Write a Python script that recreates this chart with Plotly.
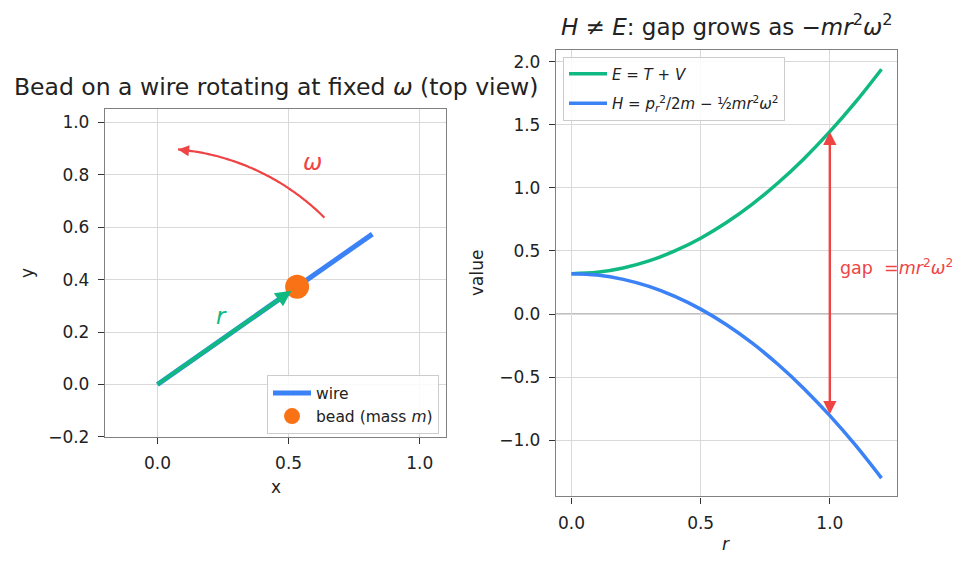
import math
import plotly.graph_objects as go

# ---------------- data ----------------
# left panel: wire geometry (top view)
wire_angle_deg = 35.0
wire_length = 1.0
bead_r = 0.65
arc_radius = 0.9
arc_start_deg = 45.0
arc_end_deg = 85.0

# right panel: energies vs r
r_vals = [0.0, 0.1, 0.2, 0.3, 0.4, 0.5, 0.6, 0.7, 0.8, 0.9, 1.0, 1.1, 1.2]
E_vals = [0.32, 0.331, 0.365, 0.421, 0.50, 0.601, 0.725, 0.871, 1.04, 1.231, 1.445, 1.681, 1.94]
H_vals = [0.32, 0.309, 0.275, 0.219, 0.14, 0.039, -0.085, -0.231, -0.40, -0.591, -0.805, -1.041, -1.30]
gap_r = 1.0
gap_E = 1.445
gap_H = -0.805

left_xticks = [0.0, 0.5, 1.0]
left_yticks = [-0.2, 0.0, 0.2, 0.4, 0.6, 0.8, 1.0]
right_xticks = [0.0, 0.5, 1.0]
right_yticks = [-1.0, -0.5, 0.0, 0.5, 1.0, 1.5, 2.0]

BLUE = "#3b82f6"
GREEN = "#10b981"
ORANGE = "#f97316"
RED = "#ef4444"
FONT = "DejaVu Sans"
TXT = "#222222"

W = 968.0
HEFF = 564.0  # effective rendered height used for pixel->paper conversion


def px_x(p):
    return p / W


def px_y(p):
    return 1 - p / HEFF


def fmt(v):
    return f"{v:.1f}".replace("-", "\u2212")


th = math.radians(wire_angle_deg)
wx = [0.0, wire_length * math.cos(th)]
wy = [0.0, wire_length * math.sin(th)]
bx = bead_r * math.cos(th)
by = bead_r * math.sin(th)

n_arc = 60
arc_t = [math.radians(arc_start_deg + (arc_end_deg - arc_start_deg) * i / (n_arc - 1)) for i in range(n_arc)]
arc_x = [arc_radius * math.cos(t) for t in arc_t]
arc_y = [arc_radius * math.sin(t) for t in arc_t]

fig = go.Figure()

# left panel
fig.add_trace(go.Scatter(x=wx, y=wy, mode="lines", line=dict(color=BLUE, width=5),
                         name="wire", xaxis="x", yaxis="y", legend="legend", legendgroup="a"))
fig.add_trace(go.Scatter(x=[0, bx * 0.96], y=[0, by * 0.96], mode="lines",
                         line=dict(color=GREEN, width=4), showlegend=False,
                         xaxis="x", yaxis="y"))
fig.add_trace(go.Scatter(x=arc_x, y=arc_y, mode="lines", line=dict(color=RED, width=2.2, shape="spline"),
                         showlegend=False, xaxis="x", yaxis="y"))
fig.add_trace(go.Scatter(x=[bx], y=[by], mode="markers",
                         marker=dict(color=ORANGE, size=24, line=dict(width=0)),
                         name="bead (mass <i>m</i>)", xaxis="x", yaxis="y", legend="legend", legendgroup="b"))

# right panel
fig.add_trace(go.Scatter(x=r_vals, y=E_vals, mode="lines", line=dict(color=GREEN, width=3.5, shape="spline"),
                         name="<i>E</i> = <i>T</i> + <i>V</i>", xaxis="x2", yaxis="y2",
                         legend="legend2", legendgroup="c"))
fig.add_trace(go.Scatter(x=r_vals, y=H_vals, mode="lines", line=dict(color=BLUE, width=3.5, shape="spline"),
                         name="<i>H</i> = <i>p</i><sub><i>r</i></sub><sup>2</sup>/2<i>m</i> \u2212 \u00bd<i>mr</i><sup>2</sup><i>\u03c9</i><sup>2</sup>",
                         xaxis="x2", yaxis="y2", legend="legend2", legendgroup="d"))

axis_common = dict(showgrid=True, gridcolor="#d9d9d9", gridwidth=1, zeroline=False,
                   showline=True, linecolor="#808080", linewidth=1.3, mirror=True,
                   ticks="outside", ticklen=6, tickwidth=1.3, tickcolor="#333333",
                   ticklabelstandoff=5,
                   tickfont=dict(family=FONT, size=17, color=TXT))

annotations = [
    # green r arrowhead
    dict(x=bx * 0.96, y=by * 0.96, ax=bx * 0.80, ay=by * 0.80, xref="x", yref="y", axref="x", ayref="y",
         showarrow=True, arrowhead=2, arrowsize=1.0, arrowwidth=3.2, arrowcolor=GREEN, text=""),
    # red omega arrowhead
    dict(x=arc_x[-1], y=arc_y[-1], ax=arc_x[-6], ay=arc_y[-6], xref="x", yref="y", axref="x", ayref="y",
         showarrow=True, arrowhead=2, arrowsize=1.3, arrowwidth=1.7, arrowcolor=RED, text=""),
    dict(x=0.246, y=0.26, xref="x", yref="y", text="<i>r</i>", showarrow=False,
         font=dict(family=FONT, size=23, color=GREEN)),
    dict(x=0.59, y=0.85, xref="x", yref="y", text="<i>\u03c9</i>", showarrow=False,
         font=dict(family=FONT, size=23, color=RED)),
    # gap double arrow
    dict(x=gap_r, y=gap_E, ax=gap_r, ay=gap_H, xref="x2", yref="y2", axref="x2", ayref="y2",
         showarrow=True, arrowhead=2, startarrowhead=2, arrowside="end+start", arrowsize=1.1,
         arrowwidth=2.4, arrowcolor=RED, text=""),
    dict(x=gap_r + 0.03, y=0.37, xref="x2", yref="y2",
         text="gap&nbsp; =<i>mr</i><sup>2</sup><i>\u03c9</i><sup>2</sup>",
         showarrow=False, xanchor="left", yanchor="middle", font=dict(family=FONT, size=17.5, color=RED)),
    # titles
    dict(x=px_x(275.5), y=px_y(88), xref="paper", yref="paper", showarrow=False,
         text="Bead on a wire rotating at fixed <i>\u03c9</i> (top view)",
         font=dict(family=FONT, size=23.5, color=TXT), xanchor="center", yanchor="middle"),
    dict(x=px_x(726), y=px_y(25), xref="paper", yref="paper", showarrow=False,
         text="<i>H</i> \u2260 <i>E</i>: gap grows as \u2212<i>mr</i><sup>2</sup><i>\u03c9</i><sup>2</sup>",
         font=dict(family=FONT, size=23, color=TXT), xanchor="center", yanchor="middle"),
    # axis titles
    dict(x=px_x(275.5), y=px_y(490), xref="paper", yref="paper", showarrow=False, text="x",
         font=dict(family=FONT, size=17, color=TXT), xanchor="center", yanchor="middle"),
    dict(x=px_x(27), y=px_y(275), xref="paper", yref="paper", showarrow=False, text="y", textangle=-90,
         font=dict(family=FONT, size=17, color=TXT), xanchor="center", yanchor="middle"),
    dict(x=px_x(726), y=px_y(548), xref="paper", yref="paper", showarrow=False, text="<i>r</i>",
         font=dict(family=FONT, size=17, color=TXT), xanchor="center", yanchor="middle"),
    dict(x=px_x(477), y=px_y(275), xref="paper", yref="paper", showarrow=False, text="value", textangle=-90,
         font=dict(family=FONT, size=17, color=TXT), xanchor="center", yanchor="middle"),
]

fig.update_layout(
    width=968, height=570, margin=dict(l=0, r=0, t=0, b=0),
    paper_bgcolor="white", plot_bgcolor="white",
    font=dict(family=FONT, color=TXT),
    xaxis=dict(domain=[px_x(105), px_x(446)], range=[-0.2, 1.1], anchor="y",
               tickvals=left_xticks, ticktext=[fmt(v) for v in left_xticks], **axis_common),
    yaxis=dict(domain=[px_y(440), px_y(110)], range=[-0.2, 1.05], anchor="x",
               tickvals=left_yticks, ticktext=[fmt(v) for v in left_yticks], **axis_common),
    xaxis2=dict(domain=[px_x(556), px_x(897)], range=[-0.06, 1.26], anchor="y2",
                tickvals=right_xticks, ticktext=[fmt(v) for v in right_xticks], **axis_common),
    yaxis2=dict(domain=[px_y(500), px_y(50)], range=[-1.445, 2.095], anchor="x2",
                tickvals=right_yticks, ticktext=[fmt(v) for v in right_yticks], **axis_common),
    legend=dict(x=px_x(439), y=px_y(378), xanchor="right", yanchor="top",
                bgcolor="rgba(255,255,255,0.85)", bordercolor="#cccccc", borderwidth=1,
                font=dict(family=FONT, size=15.5, color=TXT), itemsizing="trace",
                itemwidth=38, tracegroupgap=0),
    legend2=dict(x=px_x(563), y=px_y(57), xanchor="left", yanchor="top",
                 bgcolor="rgba(255,255,255,0.85)", bordercolor="#cccccc", borderwidth=1,
                 font=dict(family=FONT, size=15, color=TXT), itemwidth=38, tracegroupgap=7),
    shapes=[dict(type="line", xref="x2 domain", yref="y2", x0=0, x1=1, y0=0, y1=0,
                 line=dict(color="#808080", width=1.3), layer="below")],
    annotations=annotations,
)

fig.write_html("out.html")
